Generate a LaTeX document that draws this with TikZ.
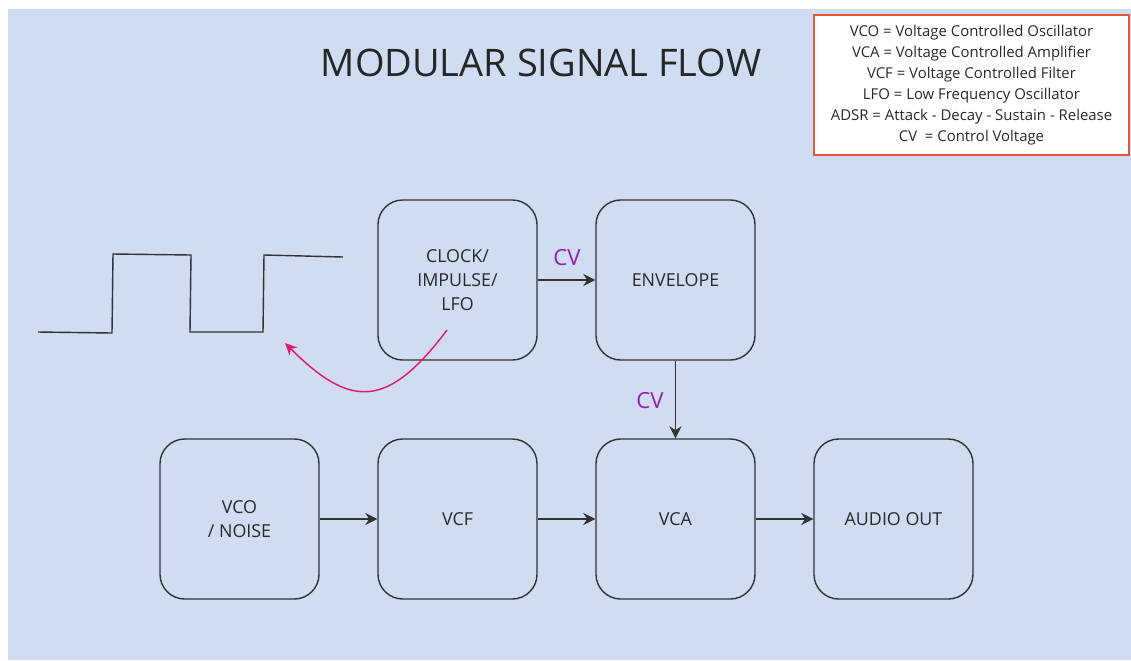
\documentclass[tikz,border=0pt]{standalone}
\usepackage{fontspec}
\setmainfont{Open Sans}
\usetikzlibrary{arrows.meta, positioning, calc}
\usepackage{xcolor}
\definecolor{panelbg}{HTML}{CFDCF2}
\definecolor{ink}{HTML}{333333}
\definecolor{cvpurple}{HTML}{9B1DAE}
\definecolor{looppink}{HTML}{E0176A}
\definecolor{legendred}{HTML}{E8553A}

\begin{document}
\begin{tikzpicture}[
    x=0.025cm, y=-0.025cm,
    every node/.style={font=\fontsize{12.7}{17}\selectfont, text=ink!80!black},
    block/.style={draw=ink, line width=1pt, rounded corners=0.62cm, minimum width=3.975cm, minimum height=4cm, align=center},
    cvlbl/.style={font=\fontsize{15.8}{19}\selectfont, text=cvpurple},
    arr/.style={-{Stealth[length=3mm, width=3mm]}, draw=ink, line width=1pt},
    wave/.style={draw=ink, line width=1pt},
    loop/.style={-{Stealth[length=3mm, width=2.8mm]}, draw=looppink, line width=1pt}
]
    % page and panel
    \useasboundingbox (0,0) rectangle (1131,660);
    \fill[panelbg] (8,9) rectangle (1131,660);

    % title
    \node[font=\fontsize{27}{33}\selectfont, text=black!85] (title) at (541,63) {MODULAR SIGNAL FLOW};

    % legend
    \node[draw=legendred, line width=1pt, fill=white, minimum width=7.875cm, minimum height=3.5cm, align=center,
          font=\fontsize{10.6}{14.9}\selectfont] (legend) at (971.5,85)
        {VCO = Voltage Controlled Oscillator\\
         VCA = Voltage Controlled Amplifier\\
         VCF = Voltage Controlled Filter\\
         LFO = Low Frequency Oscillator\\
         ADSR = Attack - Decay - Sustain - Release\\
         CV\ \ = Control Voltage};

    % top row: modulation sources
    \node[block] (clk) at (457.5,280) {CLOCK/\\IMPULSE/\\LFO};
    \node[block] (env) at (675.5,280) {ENVELOPE};

    % bottom row: audio path
    \node[block] (vco) at (239.5,519) {VCO\\/ NOISE};
    \node[block] (vcf) at (457.5,519) {VCF};
    \node[block] (vca) at (675.5,519) {VCA};
    \node[block] (out) at (893.5,519) {AUDIO OUT};

    % connectors
    \draw[arr] (clk) -- (env);
    \draw[arr] (env) -- (vca);
    \draw[arr] (vco) -- (vcf);
    \draw[arr] (vcf) -- (vca);
    \draw[arr] (vca) -- (out);

    % control voltage labels
    \node[cvlbl] (cvtop) at (567,258) {CV};
    \node[cvlbl] (cvmid) at (650,401) {CV};

    % square wave from the clock
    \draw[wave] (38,332) -- (112,333) -- (113,254) -- (191,255) -- (190,332)
        -- (263,332) -- (264,255) -- (343,257);

    % clock output back to the wave
    \coordinate (loopstart) at (447,330);
    \coordinate (wavetip) at (285,343);
    \draw[loop] (loopstart) .. controls (387,410) and (350,408) .. (wavetip);
\end{tikzpicture}
\end{document}
